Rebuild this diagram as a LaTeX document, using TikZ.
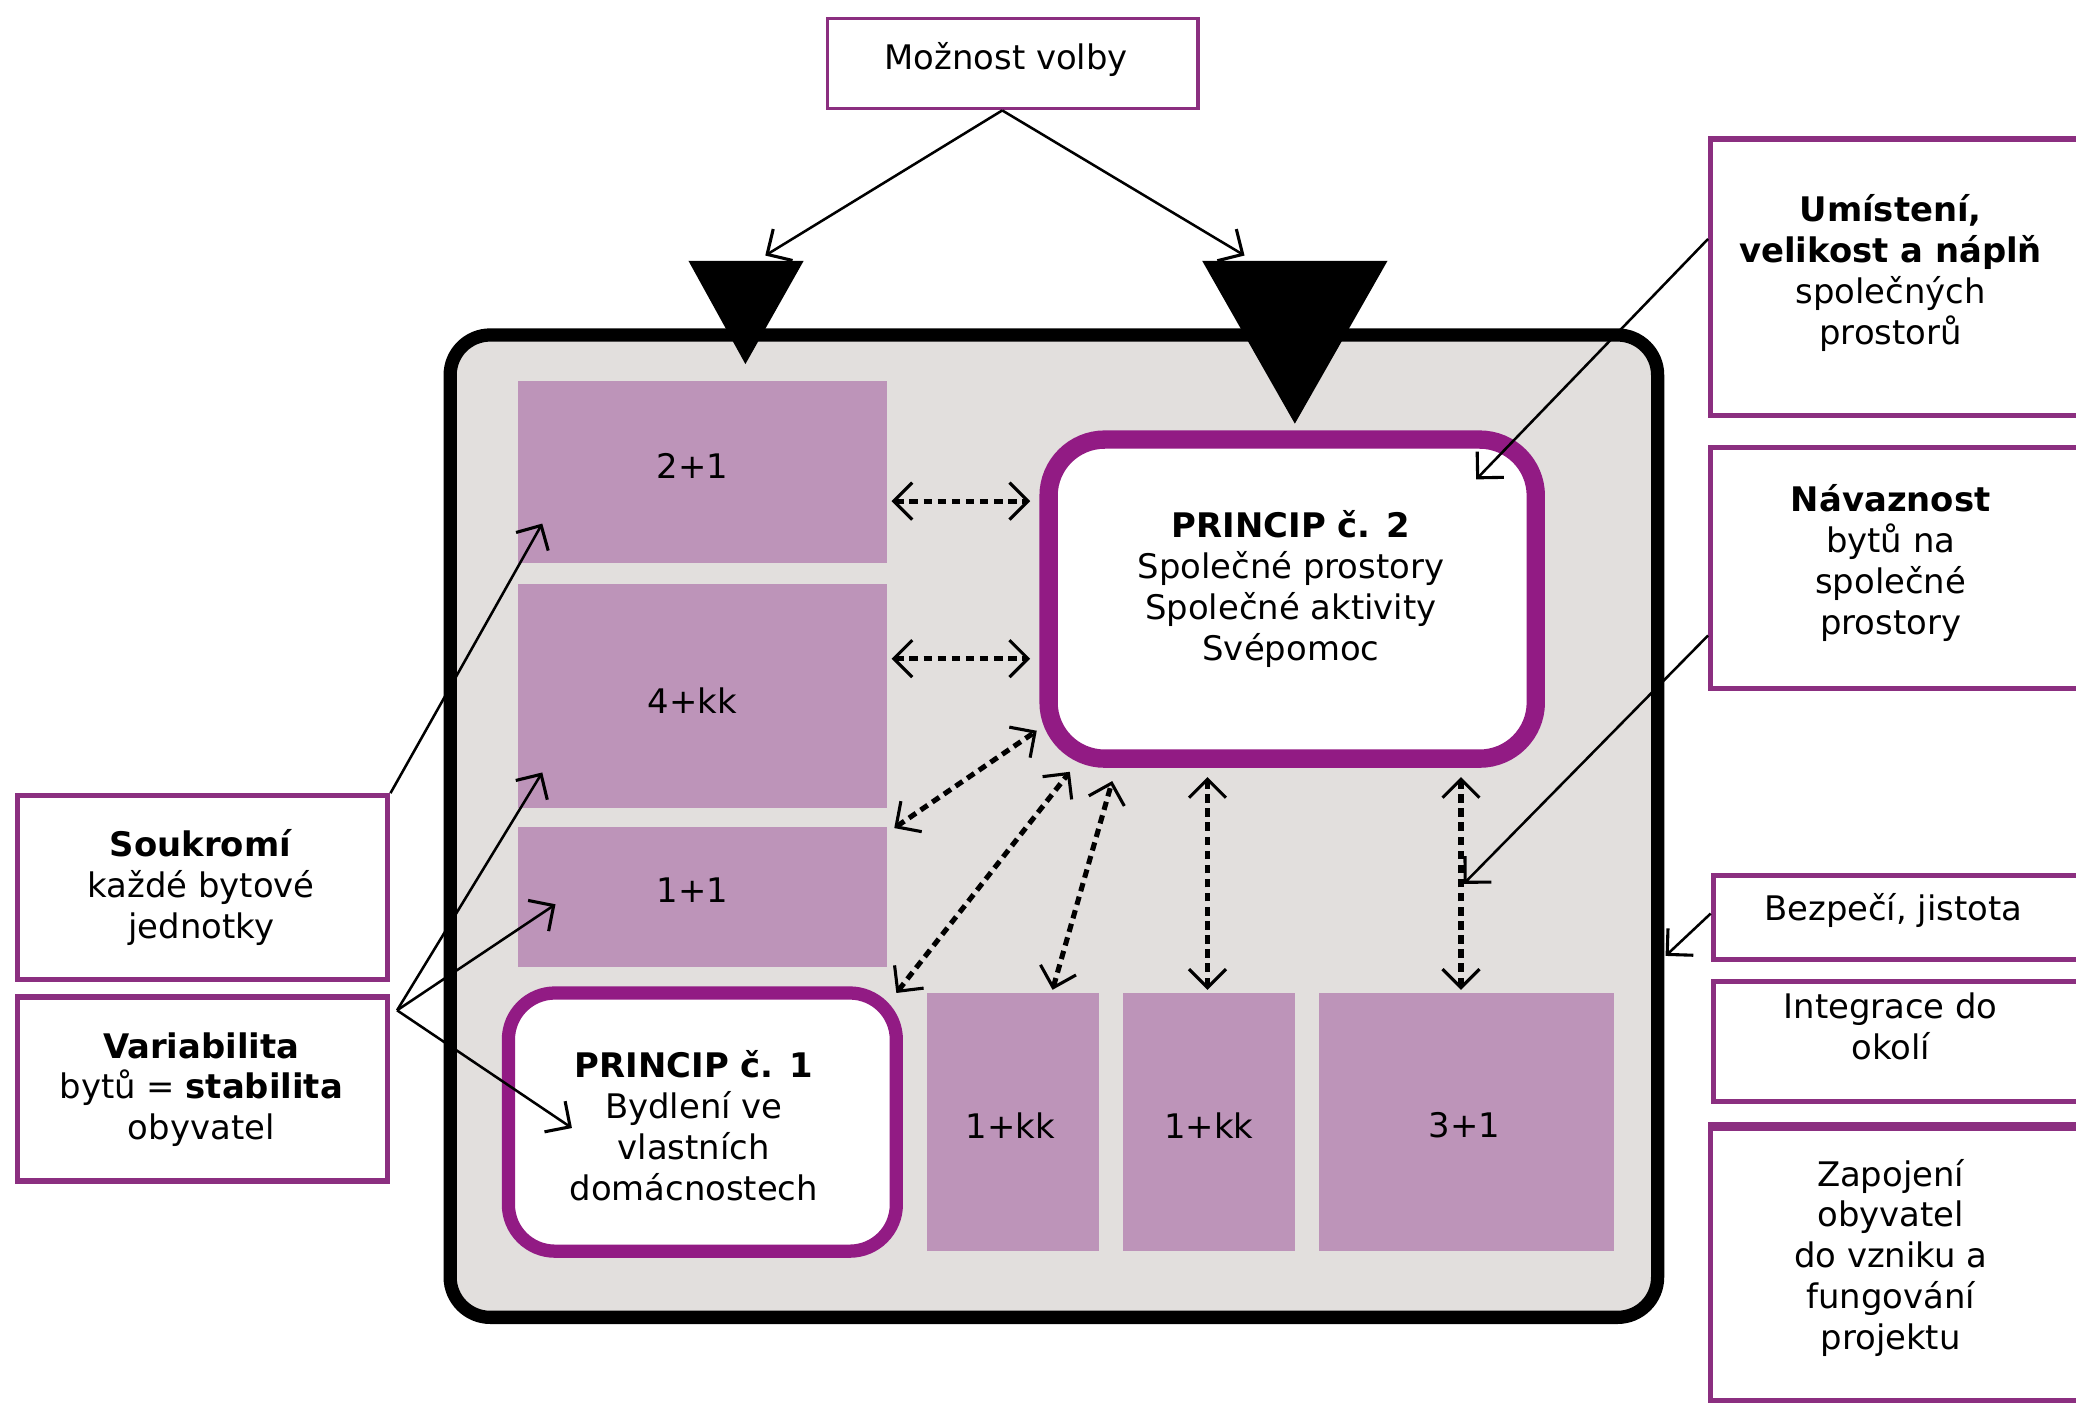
\documentclass[tikz,border=0pt]{standalone}
\usepackage{fontspec}
\setmainfont{DejaVu Sans}
\usetikzlibrary{arrows.meta,fit,calc}
\definecolor{bggray}{HTML}{E2DFDD}
\definecolor{lilac}{HTML}{BD94B9}
\definecolor{purp}{HTML}{921B84}
\definecolor{purpthin}{HTML}{8B2F80}
\begin{document}
\begin{tikzpicture}[x=0.0165cm,y=-0.0165cm,
  font=\fontsize{12}{14.5}\selectfont,
  apt/.style={fill=lilac, inner sep=0pt},
  infobox/.style={draw=purpthin, line width=1.8pt, fill=white, inner sep=0pt},
  princ/.style={draw=purp, fill=white, inner sep=0pt, align=center},
  txt/.style={align=center, inner sep=0pt},
  chev/.tip={Straight Barb[length=2.3mm,width=4.6mm,line width=1.1pt]},
  sarrow/.style={line width=0.9pt, -chev},
  darrow/.style={line width=1.8pt, dash pattern=on 3pt off 2pt, chev-chev},
]
\clip (0,0) rectangle (1568,1063);
\fill[white] (0,0) rectangle (1568,1063);

% top box
\node[infobox, line width=1.3pt, fit={(625,14) (905,82)}] (mv) {};
\node[txt] (mvt) at (760,45) {Možnost volby};

% main frame
\node[draw=black, fill=bggray, line width=4.7pt, rounded corners=0.5cm, inner sep=0pt,
      fit={(340,253) (1252,995)}] (frame) {};

% apartments
\node[apt, fit={(391,288) (670,425)}] (a21) {};
\node[txt] (a21t) at (523,352) {2+1};
\node[apt, fit={(391,441) (670,610)}] (a4kk) {};
\node[txt] (a4kkt) at (523,529) {4+kk};
\node[apt, fit={(391,625) (670,730)}] (a11) {};
\node[txt] (a11t) at (523,672) {1+1};
\node[apt, fit={(700,750) (830,945)}] (b1) {};
\node[txt] (b1t) at (763,850) {1+kk};
\node[apt, fit={(848,750) (978,945)}] (b2) {};
\node[txt] (b2t) at (913,850) {1+kk};
\node[apt, fit={(996,750) (1219,945)}] (b3) {};
\node[txt] (b3t) at (1106,850) {3+1};

% principles
\node[princ, line width=4.7pt, rounded corners=0.58cm, fit={(384,750) (677,945)}] (p1) {};
\node[txt] (p1t) at (524,850) {\textbf{PRINCIP č. 1}\\Bydlení ve\\vlastních\\domácnostech};
\node[princ, line width=6.5pt, rounded corners=0.7cm, fit={(792,332) (1160,573)}] (p2) {};
\node[txt] (p2t) at (975,445) {\textbf{PRINCIP č. 2}\\Společné prostory\\Společné aktivity\\Svépomoc};

% triangles
\fill[black] (520,197) -- (607,197) -- (563,275) -- cycle;
\fill[black] (908,197) -- (1048,197) -- (978,320) -- cycle;
\coordinate (tl) at (578,193);
\coordinate (tr) at (940,193);

% right boxes
\node[infobox, fit={(1292,105) (1590,314)}] (r1) {};
\node[txt] (r1t) at (1428,206) {\textbf{Umístení,}\\\textbf{velikost a náplň}\\společných\\prostorů};
\node[infobox, fit={(1292,338) (1590,520)}] (r2) {};
\node[txt] (r2t) at (1428,425) {\textbf{Návaznost}\\bytů na\\společné\\prostory};
\node[infobox, fit={(1294,661) (1590,725)}] (r3) {};
\node[txt] (r3t) at (1430,688) {Bezpečí, jistota};
\node[infobox, fit={(1294,741) (1590,832)}] (r4) {};
\node[txt] (r4t) at (1428,775) {Integrace do\\okolí};
\node[infobox, fit={(1292,852) (1590,1058)}] (r5) {};
\draw[purpthin, line width=2.8pt] (r5.north west) -- (r5.north east);
\node[txt] (r5t) at (1428,950) {Zapojení\\obyvatel\\do vzniku a\\fungování\\projektu};

% left boxes
\node[infobox, fit={(13,601) (293,740)}] (l1) {};
\node[txt] (l1t) at (152,670) {\textbf{Soukromí}\\každé bytové\\jednotky};
\node[infobox, fit={(13,753) (293,892)}] (l2) {};
\node[txt] (l2t) at (152,823) {\textbf{Variabilita}\\bytů = \textbf{stabilita}\\obyvatel};

% arrows from top box
\draw[sarrow] ($(mv.south)+(-8,0)$) -- (tl);
\draw[sarrow] ($(mv.south)+(-8,0)$) -- (tr);

% dotted double arrows
\draw[darrow] ($(a21.east)+(3,22)$) -- ($(a21.east -| p2.west)+(-7,22)$);
\draw[darrow] ($(a4kk.east)+(3,-28)$) -- ($(a4kk.east -| p2.west)+(-7,-28)$);
\draw[darrow] ($(a4kk.south east)+(5,15)$) -- ($(p2.south west)+(-2,-28)$);
\draw[darrow] ($(p1.north east)+(-5,5)$) -- ($(p2.south west)+(23,3)$);
\draw[darrow] ($(b1.north)+(30,-2)$) -- ($(p2.south west)+(55,10)$);
\draw[darrow] ($(b2.north)+(-1,-2)$) -- ($(b2.north |- p2.south)+(-1,7)$);
\draw[darrow] ($(b3.north)+(-4,-2)$) -- ($(b3.north |- p2.south)+(-4,7)$);

% solid arrows from left boxes
\coordinate (v0) at ($(l2.north east)+(5,12)$);
\draw[sarrow] (l1.north east) -- ($(a21.south west)+(19,-30)$);
\draw[sarrow] (v0) -- ($(a4kk.south west)+(19,-27)$);
\draw[sarrow] (v0) -- ($(a11.west)+(29,5.5)$);
\draw[sarrow] (v0) -- ($(p1.west)+(53,4.5)$);

% solid arrows from right boxes
\draw[sarrow] ($(r1.west)+(0,-29)$) -- ($(p2.north east)+(-52,37)$);
\draw[sarrow] ($(r2.west)+(0,51)$) -- ($(b3.north)+(-2,-82)$);
\draw[sarrow] ($(r3.west)+(0,-3)$) -- ($(frame.east)+(1,98)$);
\end{tikzpicture}
\end{document}
